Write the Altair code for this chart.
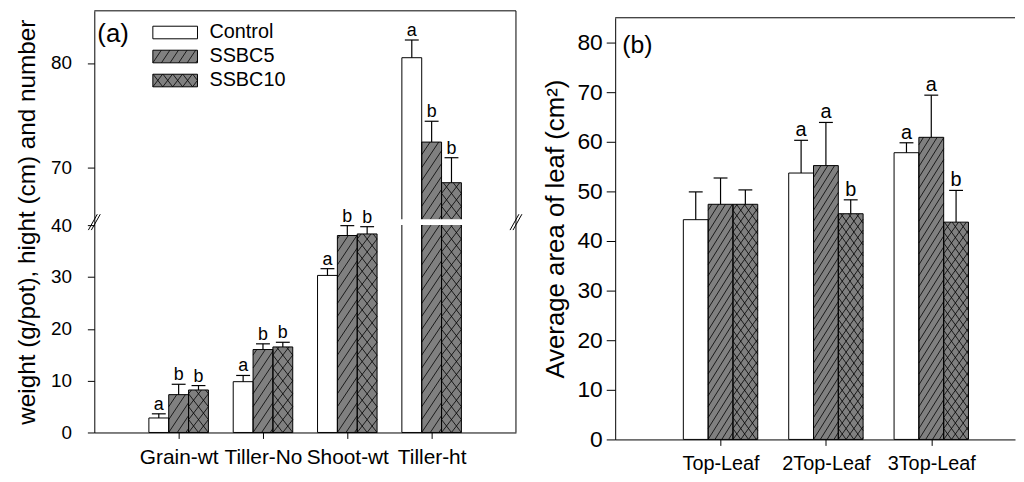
import json
import altair as alt
import pandas as pd
import numpy as np

# ---------------- data ----------------
series = ["Control", "SSBC5", "SSBC10"]

cats_a = ["Grain-wt", "Tiller-No", "Shoot-wt", "Tiller-ht"]
ctrl_a = [2.8, 9.8, 30.3, 80.5]
ctrl_a_err = [0.8, 1.2, 1.3, 1.7]
s5_a = [7.3, 16.0, 38.0, 72.4]
s5_a_err = [2.0, 1.1, 1.9, 2.0]
s10_a = [8.2, 16.5, 38.3, 68.5]
s10_a_err = [0.85, 0.9, 1.4, 2.4]
ctrl_a_let = ["a", "a", "a", "a"]
s5_a_let = ["b", "b", "b", "b"]
s10_a_let = ["b", "b", "b", "b"]

cats_b = ["Top-Leaf", "2Top-Leaf", "3Top-Leaf"]
ctrl_b = [44.3, 53.7, 57.8]
ctrl_b_err = [5.6, 6.6, 2.0]
s5_b = [47.4, 55.2, 60.9]
s5_b_err = [5.3, 8.7, 8.5]
s10_b = [47.4, 45.5, 43.8]
s10_b_err = [2.9, 2.8, 6.4]
ctrl_b_let = ["", "a", "a"]
s5_b_let = ["", "a", "a"]
s10_b_let = ["", "b", "b"]

yticks_a = [0, 10, 20, 30, 40, 70, 80]
yticks_b = [0, 10, 20, 30, 40, 50, 60, 70, 80]
ytitle_a = "weight (g/pot), hight (cm) and number"
ytitle_b = "Average area of leaf (cm²)"

# ---------------- layout / style ----------------
FONT = "Liberation Sans"
GRAY = "#808080"

WA, HA, DA = 425, 425, 5.0
pxA = WA / DA
yA_dom = [0, 40, 65, 85]
yA_rng = [425, 216, 210, 0]
pyA_lo = (yA_rng[0] - yA_rng[1]) / (yA_dom[1] - yA_dom[0])
pyA_hi = (yA_rng[2] - yA_rng[3]) / (yA_dom[3] - yA_dom[2])

WB, HB = 403, 432
pxB = 106.2
DB = WB / pxB
yB_top = 7
pyB = (HB - yB_top) / 85.0


def hatch(rows, x0, w_px, ybot, h_px, pxx, pyy, m, s, sign):
    if h_px <= 0:
        return
    if sign > 0:
        kmin, kmax = int(np.floor(-m * w_px / s)), int(np.ceil(h_px / s))
    else:
        kmin, kmax = 0, int(np.ceil((h_px + m * w_px) / s))
    for k in range(kmin, kmax + 1):
        c = k * s
        if sign > 0:
            u0 = max(0.0, -c / m)
            u1 = min(w_px, (h_px - c) / m)
            if u1 - u0 < 0.4:
                continue
            t0, t1 = m * u0 + c, m * u1 + c
        else:
            u0 = max(0.0, (c - h_px) / m)
            u1 = min(w_px, c / m)
            if u1 - u0 < 0.4:
                continue
            t0, t1 = c - m * u0, c - m * u1
        rows.append(dict(hx=x0 + u0 / pxx, hy=ybot + t0 / pyy,
                         hx2=x0 + u1 / pxx, hy2=ybot + t1 / pyy))


def add_pattern(rows, j, x0, w_px, segs, pxx, params):
    (ms, ss), (mc, sc) = params
    for (yb, yt, pyy) in segs:
        h_px = (yt - yb) * pyy
        if j == 1:
            hatch(rows, x0, w_px, yb, h_px, pxx, pyy, ms, ss, 1)
        elif j == 2:
            hatch(rows, x0, w_px, yb, h_px, pxx, pyy, mc, sc, 1)
            hatch(rows, x0, w_px, yb, h_px, pxx, pyy, mc, sc, -1)


def build(cats, vals, errs, lets, bw_px, px, segfun, params):
    bw = bw_px / px
    rows, hrows = [], []
    for j, s in enumerate(series):
        for i, c in enumerate(cats):
            pos = i + 1
            x0 = pos + (j - 1.5) * bw
            v = vals[j][i]
            top = v + errs[j][i]
            rows.append(dict(cat=c, series=s, x0=x0, x1=x0 + bw, xc=x0 + bw / 2,
                             cx0=x0 + bw / 2 - 7 / px, cx1=x0 + bw / 2 + 7 / px,
                             v=v, top=top, let=lets[j][i], zero=0.0,
                             fill="white" if j == 0 else GRAY))
            add_pattern(hrows, j, x0, bw_px, segfun(v), px, params)
    return pd.DataFrame(rows), pd.DataFrame(hrows)


def segA(v):
    if v <= 40:
        return [(0, v, pyA_lo)]
    return [(0, 40, pyA_lo), (65, v, pyA_hi)]


def segB(v):
    return [(0, v, pyB)]


parA = ((1.5, 13.0), (1.3, 13.0))
parB = ((1.6, 11.0), (1.4, 11.0))

barsA, hatchA = build(cats_a, [ctrl_a, s5_a, s10_a], [ctrl_a_err, s5_a_err, s10_a_err],
                      [ctrl_a_let, s5_a_let, s10_a_let], 20, pxA, segA, parA)
barsB, hatchB = build(cats_b, [ctrl_b, s5_b, s10_b], [ctrl_b_err, s5_b_err, s10_b_err],
                      [ctrl_b_let, s5_b_let, s10_b_let], 25, pxB, segB, parB)

# legend (panel a), boxes placed in pixel offsets converted to data units
leg_rows, leg_hatch = [], []
for j, s in enumerate(series):
    top_px = 15.5 + 24.2 * j
    bot_px = top_px + 12.7
    yb = 85 - bot_px / pyA_hi
    yt = 85 - top_px / pyA_hi
    lx0 = 59 / pxA
    lx1 = 104 / pxA
    leg_rows.append(dict(series=s, x0=lx0, x1=lx1, yb=yb, yt=yt, ym=(yb + yt) / 2,
                         tx=116 / pxA, fill="white" if j == 0 else GRAY))
    add_pattern(leg_hatch, j, lx0, 45, [(yb, yt, pyA_hi)], pxA, parA)
legA = pd.DataFrame(leg_rows)
legHA = pd.DataFrame(leg_hatch)

gapA = pd.DataFrame([dict(x0=4 - 1.5 * 20 / pxA - 0.03, x1=4 + 1.5 * 20 / pxA + 0.03, y0=40.3, y1=65)])
labA = pd.DataFrame([dict(x=3 / pxA, y=85 - 23 / pyA_hi, t="(a)")])
labB = pd.DataFrame([dict(x=7 / pxB, y=(HB - 34.5) / pyB, t="(b)")])

# ---------------- scales ----------------
sxA = alt.Scale(domain=[0, DA], nice=False, zero=False)
syA = alt.Scale(domain=yA_dom, range=yA_rng, nice=False, zero=False)
sxB = alt.Scale(domain=[0, DB], nice=False, zero=False)
syB = alt.Scale(domain=[0, 85], range=[HB, yB_top], nice=False, zero=False)

axis_common = dict(grid=False, domainColor="black", tickColor="black", labelColor="black",
                   titleColor="black", labelFont=FONT, titleFont=FONT, labelOverlap=False,
                   labelBound=False, titleFontWeight="normal")

xaxA = alt.Axis(values=[1, 2, 3, 4], labelExpr=json.dumps(cats_a) + "[datum.value-1]", title=None,
                tickSize=6, labelPadding=8, labelFontSize=21, labelFlush=False, **axis_common)
yaxA = alt.Axis(values=yticks_a, title=ytitle_a, tickSize=7, labelPadding=16, labelFontSize=19,
                titleFontSize=24.5, titlePadding=11, **axis_common)
xaxB = alt.Axis(values=[1, 2, 3], labelExpr=json.dumps(cats_b) + "[datum.value-1]", title=None,
                tickSize=6, labelPadding=8, labelFontSize=20, labelFlush=False, **axis_common)
yaxB = alt.Axis(values=yticks_b, title=ytitle_b, tickSize=9, labelPadding=4, labelFontSize=23,
                titleFontSize=26, titlePadding=9, **axis_common)


def make_xy(sx, sy, xax, yax):
    X = lambda f: alt.X(f, type="quantitative", scale=sx, axis=xax)
    Y = lambda f: alt.Y(f, type="quantitative", scale=sy, axis=yax)
    return X, Y


XA, YA = make_xy(sxA, syA, xaxA, yaxA)
XB, YB = make_xy(sxB, syB, xaxB, yaxB)


def panel(bars, hat, X, Y, letter_size):
    base = alt.Chart(bars)
    rect = base.mark_rect(strokeWidth=0).encode(
        x=X("x0"), x2="x1", y=Y("v"), y2="zero",
        color=alt.Color("fill:N", scale=None))
    hl = alt.Chart(hat).mark_rule(color="black", strokeWidth=0.8).encode(
        x=X("hx"), x2="hx2", y=Y("hy"), y2="hy2")
    outline = base.mark_rect(fillOpacity=0, stroke="black", strokeWidth=1).encode(
        x=X("x0"), x2="x1", y=Y("v"), y2="zero")
    err = base.mark_rule(color="black", strokeWidth=1.2).encode(
        x=X("xc"), y=Y("v"), y2="top")
    cap = base.mark_rule(color="black", strokeWidth=1.2).encode(
        x=X("cx0"), x2="cx1", y=Y("top"))
    lets = base.mark_text(font=FONT, fontSize=letter_size, color="black", baseline="alphabetic",
                          dy=-4).encode(x=X("xc"), y=Y("top"), text="let:N")
    return [rect, hl, outline], [err, cap, lets]


lA1, lA2 = panel(barsA, hatchA, XA, YA, 18)
lB1, lB2 = panel(barsB, hatchB, XB, YB, 20)

gap = alt.Chart(gapA).mark_rect(color="white").encode(
    x=XA("x0"), x2="x1", y=YA("y0"), y2="y1")

legbox = alt.Chart(legA).mark_rect(strokeWidth=0).encode(
    x=XA("x0"), x2="x1", y=YA("yb"), y2="yt",
    color=alt.Color("fill:N", scale=None))
leghat = alt.Chart(legHA).mark_rule(color="black", strokeWidth=0.8).encode(
    x=XA("hx"), x2="hx2", y=YA("hy"), y2="hy2")
legout = alt.Chart(legA).mark_rect(fillOpacity=0, stroke="black", strokeWidth=1).encode(
    x=XA("x0"), x2="x1", y=YA("yb"), y2="yt")
legtxt = alt.Chart(legA).mark_text(font=FONT, fontSize=20, align="left", baseline="middle",
                                   color="black").encode(
    x=XA("tx"), y=YA("ym"), text="series:N")
tagA = alt.Chart(labA).mark_text(font=FONT, fontSize=26, align="left", baseline="middle",
                                 color="black").encode(
    x=XA("x"), y=YA("y"), text="t:N")

frameA_top = alt.Chart(labA).mark_rule(color="black", strokeWidth=1).encode(
    x=alt.value(0), x2=alt.value(WA), y=alt.value(0))
frameA_right = alt.Chart(labA).mark_rule(color="black", strokeWidth=1).encode(
    x=alt.value(WA), y=alt.value(0), y2=alt.value(HA))
brk = []
for bx in (0, WA):
    for off in (0, 3):
        brk.append(alt.Chart(labA).mark_rule(color="black", strokeWidth=1).encode(
            x=alt.value(bx - 6 + off), y=alt.value(221), x2=alt.value(bx + 3 + off), y2=alt.value(205)))

chartA = alt.layer(*lA1, gap, *lA2, legbox, leghat, legout, legtxt, tagA,
                   frameA_top, frameA_right, *brk).properties(width=WA, height=HA)

tagB = alt.Chart(labB).mark_text(font=FONT, fontSize=25, align="left", baseline="middle",
                                 color="black").encode(
    x=XB("x"), y=YB("y"), text="t:N")
frameB_top = alt.Chart(labB).mark_rule(color="black", strokeWidth=1).encode(
    x=alt.value(0), x2=alt.value(WB), y=alt.value(yB_top))

chartB = alt.layer(*lB1, *lB2, tagB, frameB_top).properties(width=WB, height=HB)

chart = alt.hconcat(chartA, chartB, spacing=19).properties(
    padding={"left": 6, "top": 0, "right": 0, "bottom": 0}
).configure(font=FONT).configure_view(stroke=None)

chart.save("out.html", embed_options={"renderer": "svg", "actions": False})
